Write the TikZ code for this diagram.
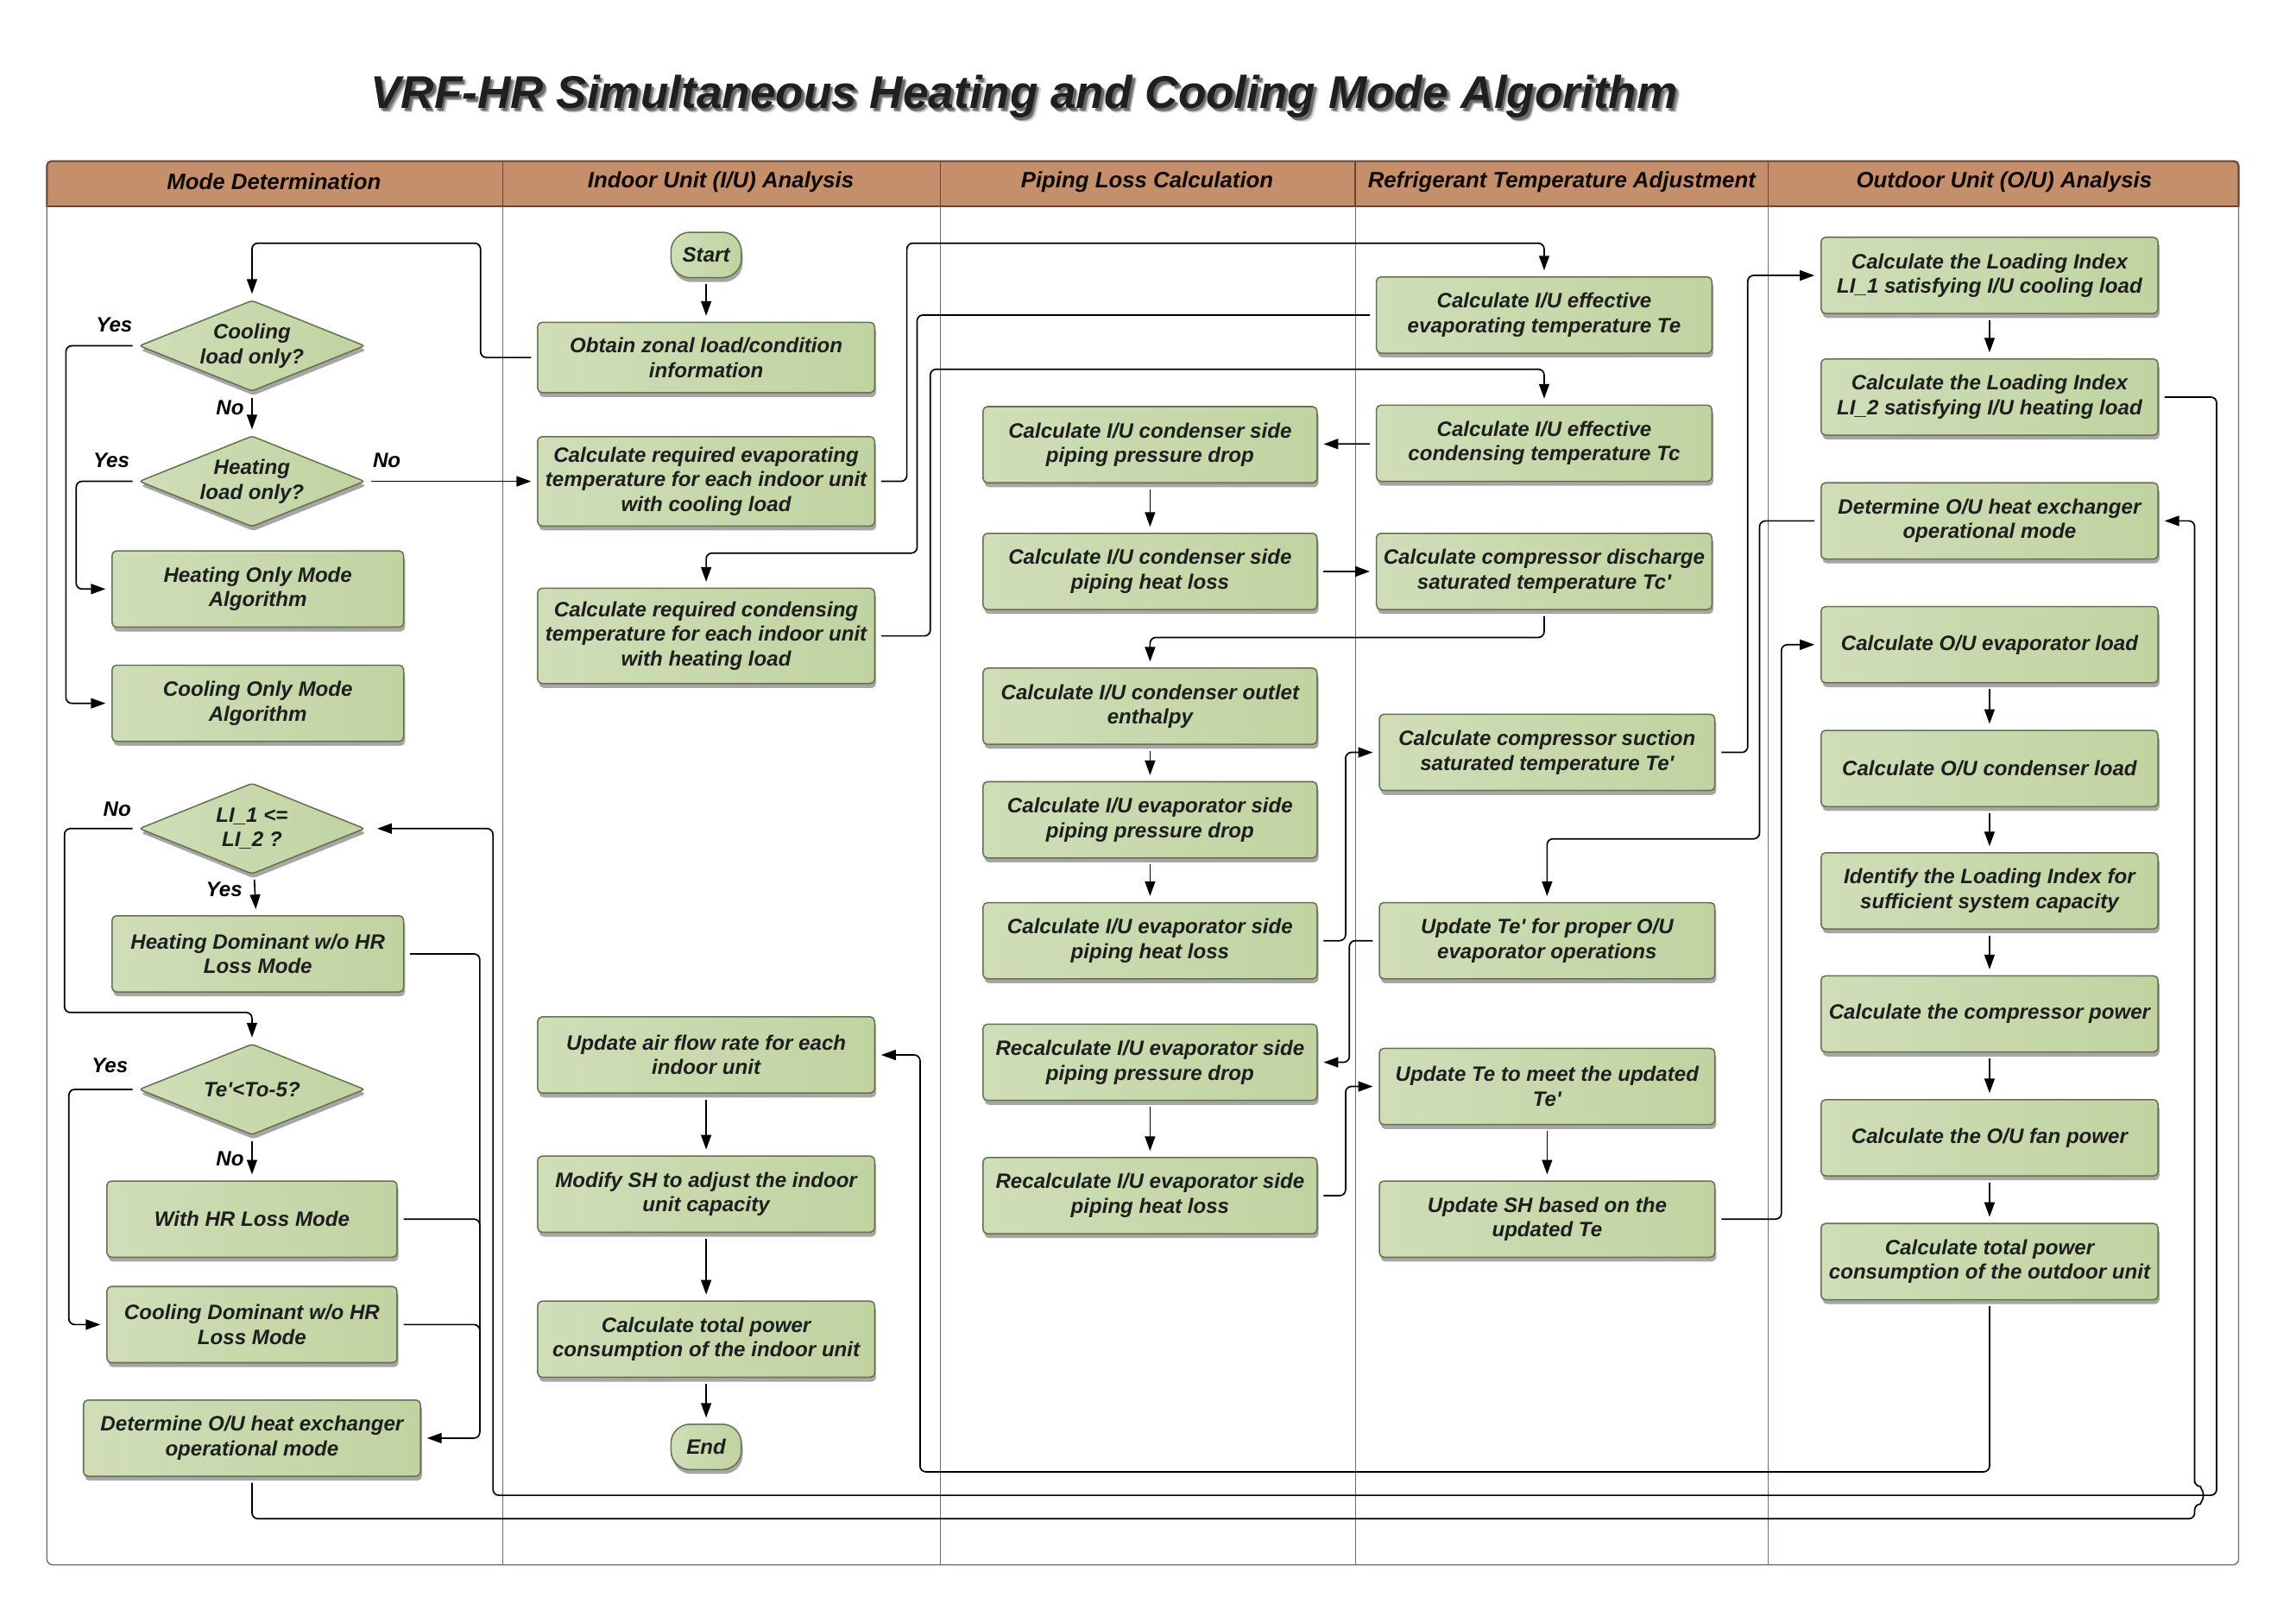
\documentclass[tikz,border=0pt]{standalone}
\usepackage{fontspec}
\setmainfont{Liberation Sans}
\usetikzlibrary{shapes.geometric,arrows.meta,shadows}
\definecolor{boxl}{HTML}{CFDEB8}
\definecolor{boxr}{HTML}{C1D3A1}
\definecolor{boxedge}{HTML}{66724F}
\definecolor{boxtext}{HTML}{1E1E1E}
\definecolor{hdrfill}{HTML}{C68F6C}
\definecolor{hdredge}{HTML}{6A4530}
\definecolor{lane}{HTML}{7E6A5C}
\begin{document}
\begin{tikzpicture}[x=1pt,y=-1pt,
    box/.style={draw=boxedge, line width=0.9pt, rounded corners=3pt,
      left color=boxl, right color=boxr,
      drop shadow={shadow xshift=1pt, shadow yshift=-3pt, opacity=0.35, fill=black},
      font=\fontsize{14.2}{16.8}\selectfont\bfseries\itshape, text=boxtext,
      align=center, inner xsep=0pt, minimum width=230, minimum height=52},
    dia/.style={box, shape=diamond, aspect=2.4, inner sep=0pt,
      minimum width=154, minimum height=62, rounded corners=2pt},
    term/.style={box, rounded corners=13pt, minimum width=48, minimum height=31},
    lbl/.style={font=\fontsize{14.2}{16.8}\selectfont\bfseries\itshape, text=black, inner sep=1pt},
    hdr/.style={font=\fontsize{15.2}{18}\selectfont\bfseries\itshape, text=black!85!hdredge},
    conn/.style={draw=black, line width=1pt, rounded corners=4pt,
      shorten <=4pt, shorten >=4pt, -{Triangle[length=10pt,width=7pt]}},
    link/.style={conn, -}]
  \useasboundingbox (0,0) rectangle (1567.2,1098.8);

  % title with soft shadow
  \foreach \d/\o in {3/0.15,2.2/0.25,1.5/0.35}
    \node[font=\fontsize{31.3}{36}\selectfont\bfseries\itshape, text=black, opacity=\o]
      at (699+\d,66+\d) {VRF-HR Simultaneous Heating and Cooling Mode Algorithm};
  \node[font=\fontsize{31.3}{36}\selectfont\bfseries\itshape, text=black!88] (title)
    at (699,66) {VRF-HR Simultaneous Heating and Cooling Mode Algorithm};

  % swim lanes
  \draw[lane, line width=0.8pt, rounded corners=4pt] (32,110) rectangle (1528,1068);
  \fill[hdrfill, rounded corners=3pt] (32,110) rectangle (1528,141);
  \draw[hdredge, line width=1.2pt, rounded corners=3pt] (32,141) -- (32,110) -- (1528,110) -- (1528,141);
  \draw[hdredge, line width=1.2pt] (32,141) -- (1528,141);
  \foreach \x in {343,642,925,1207} {
    \draw[hdredge, line width=0.8pt] (\x,110) -- (\x,141);
    \draw[lane, line width=0.5pt] (\x,141) -- (\x,1068);
  }
  \node[hdr] (h1) at (187,124) {Mode Determination};
  \node[hdr] (h2) at (492,124) {Indoor Unit (I/U) Analysis};
  \node[hdr] (h3) at (783,124) {Piping Loss Calculation};
  \node[hdr] (h4) at (1066,124) {Refrigerant Temperature Adjustment};
  \node[hdr] (h5) at (1368,124) {Outdoor Unit (O/U) Analysis};

  % mode determination
  \node[dia] (cool) at (172,236) {Cooling\\load only?};
  \node[dia] (heat) at (172,328.5) {Heating\\load only?};
  \node[box, minimum width=199] (heatonly) at (176,402) {Heating Only Mode\\Algorithm};
  \node[box, minimum width=199] (coolonly) at (176,480) {Cooling Only Mode\\Algorithm};
  \node[dia] (li) at (172,565.5) {LI\_1 <=\\LI\_2 ?};
  \node[box, minimum width=199] (hdom) at (176,651) {Heating Dominant w/o HR\\Loss Mode};
  \node[dia] (te) at (172,743.5) {Te\textquotesingle<To-5?};
  \node[box, minimum width=198] (withhr) at (172,832) {With HR Loss Mode};
  \node[box, minimum width=198] (cdom) at (172,904) {Cooling Dominant w/o HR\\Loss Mode};
  \node[box] (detm) at (172,981.5) {Determine O/U heat exchanger\\operational mode};

  % indoor unit
  \node[term] (start) at (482,174) {Start};
  \node[box, minimum height=48] (obtain) at (482,244) {Obtain zonal load/condition\\information};
  \node[box, minimum height=61] (reqevap) at (482,328.5) {Calculate required evaporating\\temperature for each indoor unit\\with cooling load};
  \node[box, minimum height=65] (reqcond) at (482,434) {Calculate required condensing\\temperature for each indoor unit\\with heating load};
  \node[box] (upair) at (482,720) {Update air flow rate for each\\indoor unit};
  \node[box] (modsh) at (482,815) {Modify SH to adjust the indoor\\unit capacity};
  \node[box] (iutot) at (482,914) {Calculate total power\\consumption of the indoor unit};
  \node[term] (end) at (482,987.5) {End};

  % piping loss
  \node[box, minimum width=228] (pcpd) at (785,303.5) {Calculate I/U condenser side\\piping pressure drop};
  \node[box, minimum width=228] (pchl) at (785,390) {Calculate I/U condenser side\\piping heat loss};
  \node[box, minimum width=228] (pout) at (785,482) {Calculate I/U condenser outlet\\enthalpy};
  \node[box, minimum width=228] (pepd) at (785,559.5) {Calculate I/U evaporator side\\piping pressure drop};
  \node[box, minimum width=228] (pehl) at (785,642) {Calculate I/U evaporator side\\piping heat loss};
  \node[box, minimum width=228] (rpd) at (785,725) {Recalculate I/U evaporator side\\piping pressure drop};
  \node[box, minimum width=228] (rhl) at (785,816) {Recalculate I/U evaporator side\\piping heat loss};

  % refrigerant temperature
  \node[box, minimum width=229] (tee) at (1054,215) {Calculate I/U effective\\evaporating temperature Te};
  \node[box, minimum width=229] (tcc) at (1054,302.5) {Calculate I/U effective\\condensing temperature Tc};
  \node[box, minimum width=229] (tcp) at (1054,390) {Calculate compressor discharge\\saturated temperature Tc\textquotesingle};
  \node[box, minimum width=229] (tesuc) at (1056,513.5) {Calculate compressor suction\\saturated temperature Te\textquotesingle};
  \node[box, minimum width=229] (upte1) at (1056,642) {Update Te\textquotesingle{} for proper O/U\\evaporator operations};
  \node[box, minimum width=229] (upte2) at (1056,741.5) {Update Te to meet the updated\\Te\textquotesingle};
  \node[box, minimum width=229] (upsh) at (1056,832) {Update SH based on the\\updated Te};

  % outdoor unit
  \node[box] (li1) at (1358,188) {Calculate the Loading Index\\LI\_1 satisfying I/U cooling load};
  \node[box] (li2) at (1358,271) {Calculate the Loading Index\\LI\_2 satisfying I/U heating load};
  \node[box] (oudet) at (1358,355.5) {Determine O/U heat exchanger\\operational mode};
  \node[box] (ouevap) at (1358,440) {Calculate O/U evaporator load};
  \node[box] (oucond) at (1358,524.5) {Calculate O/U condenser load};
  \node[box] (ouid) at (1358,608) {Identify the Loading Index for\\sufficient system capacity};
  \node[box] (oucomp) at (1358,692) {Calculate the compressor power};
  \node[box] (oufan) at (1358,776.5) {Calculate the O/U fan power};
  \node[box] (outot) at (1358,861) {Calculate total power\\consumption of the outdoor unit};

  % decision labels
  \node[lbl] (y1) at (78,222) {Yes};
  \node[lbl] (n1) at (157,278) {No};
  \node[lbl] (y2) at (76,314) {Yes};
  \node[lbl] (n2) at (264,314) {No};
  \node[lbl] (n3) at (80,552) {No};
  \node[lbl] (y3) at (153,607) {Yes};
  \node[lbl] (y4) at (75,727) {Yes};
  \node[lbl] (n4) at (157,791) {No};

  % connectors
  \draw[conn] (start) -- (obtain);
  \draw[conn] (obtain.west) -| (328,166) -| (cool.north);
  \draw[conn] (cool) -- (heat);
  \draw[conn] (cool.west) -| (45,480) -- (coolonly.west);
  \draw[conn] (heat.west) -| (52,402) -- (heatonly.west);
  \draw[conn] (heat.east) -- (reqevap.west);
  \draw[conn] (reqevap.east) -| (619,166) -| (tee.north);
  \draw[conn] (tee.west) -| (626,377.5) -| (reqcond.north);
  \draw[conn] (reqcond.east) -| (635,252) -| (tcc.north);
  \draw[conn] (tcc) -- (pcpd);
  \draw[conn] (pcpd) -- (pchl);
  \draw[conn] (pchl) -- (tcp);
  \draw[conn] (tcp.south) -- ++(0,18.6) -| (pout.north);
  \draw[conn] (pout) -- (pepd);
  \draw[conn] (pepd) -- (pehl);
  \draw[conn] (pehl.east) -- ++(19,0) |- (tesuc.west);
  \draw[conn] (upte1.west) -- ++(-20,0) |- (rpd.east);
  \draw[conn] (rpd) -- (rhl);
  \draw[conn] (rhl.east) -- ++(19,0) |- (upte2.west);
  \draw[conn] (upte2) -- (upsh);
  \draw[conn] (upsh.east) -- ++(45,0) |- (ouevap.west);
  \draw[conn] (tesuc.east) -- ++(22,0) |- (li1.west);
  \draw[conn] (oudet.west) -| (1201,572.5) -| (upte1.north);
  \draw[conn] (li1) -- (li2);
  \draw[conn] (ouevap) -- (oucond);
  \draw[conn] (oucond) -- (ouid);
  \draw[conn] (ouid) -- (oucomp);
  \draw[conn] (oucomp) -- (oufan);
  \draw[conn] (oufan) -- (outot);
  \draw[conn] (outot.south) |- (628,1004.5) |- (upair.east);
  \draw[conn] (upair) -- (modsh);
  \draw[conn] (modsh) -- (iutot);
  \draw[conn] (iutot) -- (end);
  \draw[conn, shorten >=8pt] (li2.east) -| (1513,1020.5) -| (336.5,565.5) -- (li.east);
  \draw[conn] (detm.south) |- (1498,1036.5) -- (1498,1026.5)
    arc[start angle=-90, end angle=90, radius=6pt] -- (1498,1014.5) |- (oudet.east);
  \draw[conn] (li.west) -| (44,691) -| (te.north);
  \draw[conn] (li) -- (hdom);
  \draw[conn] (te.west) -| (47,904) -- (cdom.west);
  \draw[conn] (te) -- (withhr);
  \draw[conn] (hdom.east) -| (327.5,981.5) -- (detm.east);
  \draw[link] (withhr.east) -| (327.5,981.5);
  \draw[link] (cdom.east) -| (327.5,981.5);
\end{tikzpicture}
\end{document}
